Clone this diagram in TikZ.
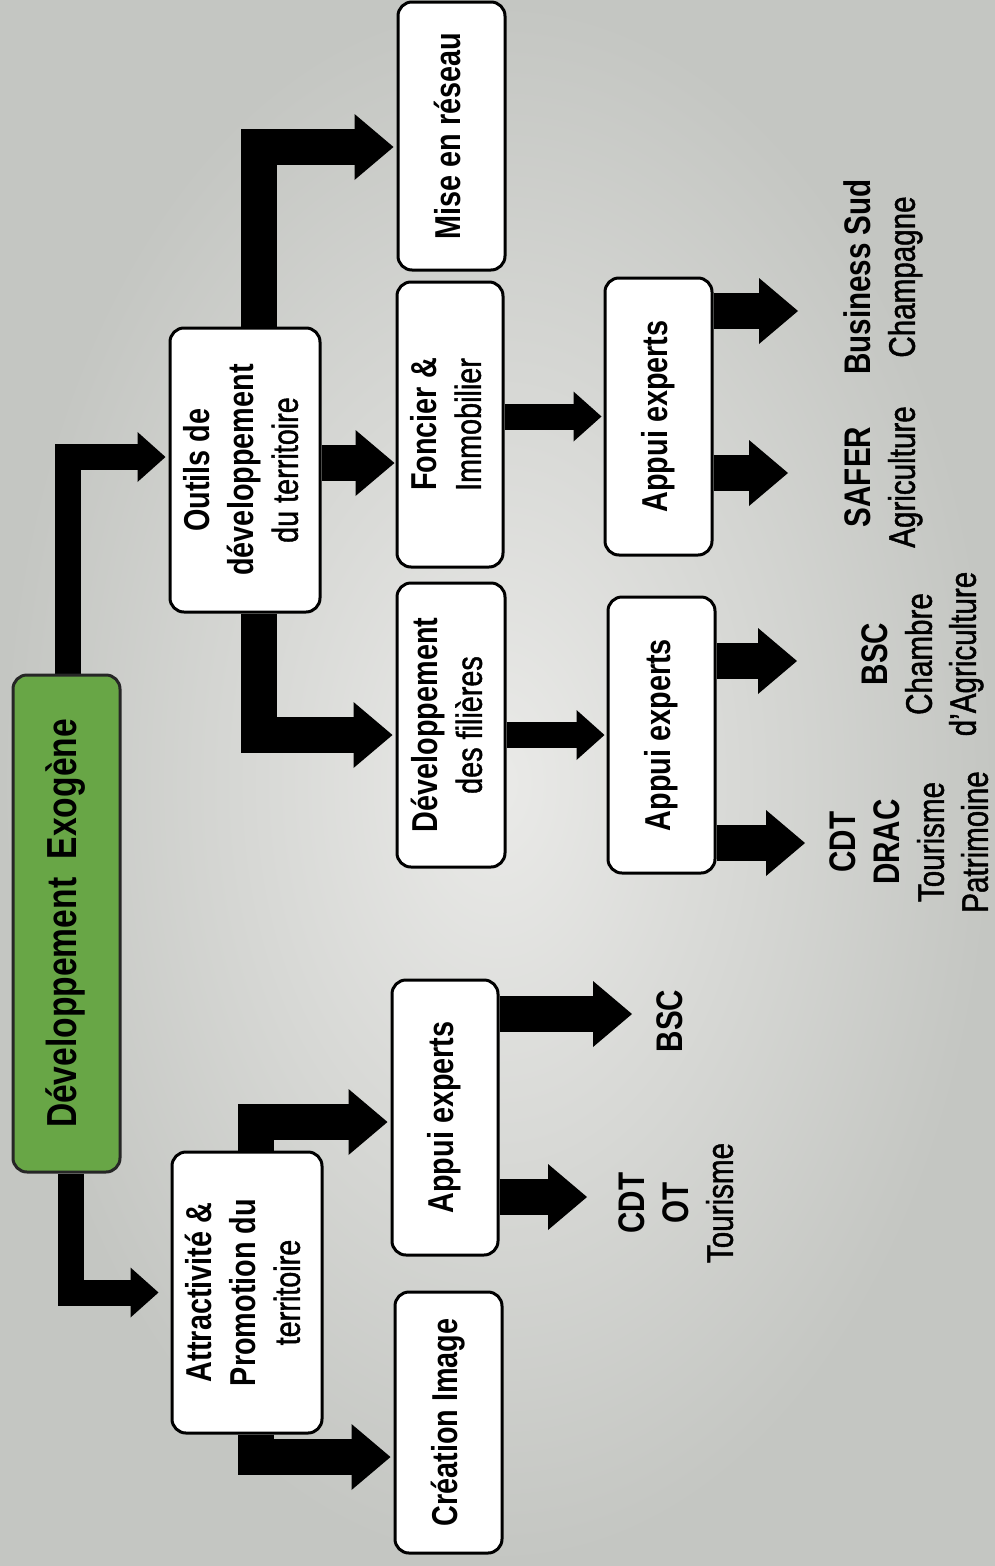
\documentclass[tikz,border=0pt]{standalone}
\usepackage{fontspec}
\usepackage{graphicx}
\setmainfont{Liberation Sans}[FakeStretch=0.8]
\newfontfamily\medfont{Liberation Sans}[FakeStretch=0.8, FakeBold=1.2]
\usetikzlibrary{arrows.meta}
\definecolor{grn}{RGB}{104,166,70}
\definecolor{bgA}{RGB}{234,234,232}
\definecolor{bgB}{RGB}{196,198,194}
\pgfdeclarelayer{bg}
\pgfdeclarelayer{arr}
\pgfsetlayers{bg,arr,main}
\newcommand{\rt}[1]{\rotatebox{90}{\begin{tabular}{@{}c@{}}#1\end{tabular}}}
\newcommand{\md}[1]{{\medfont #1}}
\tikzset{
  box/.style={draw=black, line width=3pt, rounded corners=14pt, fill=white, inner sep=0pt,
    font=\fontsize{36pt}{44pt}\selectfont},
  lbl/.style={inner sep=0pt, font=\fontsize{37pt}{44pt}\selectfont},
  blk/.style n args={3}{line width=#1, line join=miter, draw=black,
    -{Triangle[length=#2, width=#3, line width=0pt]}},
  thickarr/.style={blk={36pt}{39pt}{66pt}},
  thinarr/.style={blk={26pt}{28pt}{50pt}},
}
\begin{document}
\begin{tikzpicture}[x=1pt, y=-1pt]
\useasboundingbox (0,0) rectangle (995,1566);
\begin{pgfonlayer}{bg}
  \shade[inner color=bgA, outer color=bgB] (0,0) rectangle (995,1566);
\end{pgfonlayer}

% boxes
\node[box, fill=grn, draw=black!85, minimum width=107pt, minimum height=497pt,
  font=\fontsize{42pt}{48pt}\selectfont] (g) at (66.5,923.5) {\rt{\textbf{Développement\ \ Exogène}}};
\node[box, minimum width=150pt, minimum height=281pt] (at) at (247,1292.5)
  {\rt{\textbf{Attractivité \&}\\\textbf{Promotion du}\\\md{territoire}}};
\node[box, minimum width=150pt, minimum height=284pt] (ou) at (245,470)
  {\rt{\textbf{Outils de}\\\textbf{développement}\\\md{du territoire}}};
\node[box, minimum width=107pt, minimum height=268pt] (mi) at (451.5,136) {\rt{\textbf{Mise en réseau}}};
\node[box, minimum width=106pt, minimum height=285pt] (fo) at (450,424.5) {\rt{\textbf{Foncier \&}\\\md{Immobilier}}};
\node[box, minimum width=108pt, minimum height=284pt] (fi) at (451,725) {\rt{\textbf{Développement}\\\md{des filières}}};
\node[box, minimum width=107pt, minimum height=277pt] (ap2) at (658.5,416.5) {\rt{\textbf{Appui experts}}};
\node[box, minimum width=107pt, minimum height=276pt] (ap3) at (661.5,735) {\rt{\textbf{Appui experts}}};
\node[box, minimum width=106pt, minimum height=275pt] (ap1) at (445,1117.5) {\rt{\textbf{Appui experts}}};
\node[box, minimum width=107pt, minimum height=261pt] (cr) at (448.5,1422.5) {\rt{\textbf{Création Image}}};

% labels
\node[lbl] (l6) at (884,277) {\rt{\textbf{Business Sud}\\\md{Champagne}}};
\node[lbl] (l5) at (884,477) {\rt{\textbf{SAFER}\\\md{Agriculture}}};
\node[lbl] (l4) at (923,654) {\rt{\textbf{BSC}\\\md{Chambre}\\\md{d’Agriculture}}};
\node[lbl] (l3) at (913,842) {\rt{\textbf{CDT}\\\textbf{DRAC}\\\md{Tourisme}\\\md{Patrimoine}}};
\node[lbl] (l1) at (674,1021) {\rt{\textbf{BSC}}};
\node[lbl] (l2) at (680,1203) {\rt{\textbf{CDT}\\\textbf{OT}\\\md{Tourisme}}};

% free arrow ends
\coordinate (t6) at (798,311);
\coordinate (t5) at (788,473);
\coordinate (t4) at (797,661);
\coordinate (t3) at (805,843);
\coordinate (t1) at (632,1014);
\coordinate (t2) at (587,1197);
\coordinate (foin) at ([yshift=7pt]ou.east);

\begin{pgfonlayer}{arr}
  \draw[thinarr, shorten >=12pt] ([xshift=4.5pt]g.south) |- (at.west);
  \draw[thinarr, shorten >=3pt] ([xshift=1.5pt]g.north) |- ([yshift=13pt]ou.west);
  \draw[thickarr, shorten >=3pt] ([xshift=14pt]ou.north) |- ([yshift=-11pt]mi.west);
  \draw[thickarr, shorten >=1pt] (foin) -- (foin -| fo.west);
  \draw[thickarr, shorten >=3pt] ([xshift=14pt]ou.south) |- ([yshift=-10pt]fi.west);
  \draw[thickarr, shorten >=3pt] ([xshift=9pt]at.north) |- ([yshift=-4.5pt]ap1.west);
  \draw[thickarr, shorten >=3pt] ([xshift=9pt]at.south) |- ([yshift=-34.5pt]cr.west);
  \draw[thinarr, shorten >=2pt] (fo.east |- ap2.west) -- (ap2.west);
  \draw[thinarr, shorten >=2pt] (fi.east |- ap3.west) -- (ap3.west);
  \draw[thickarr] (ap2.east |- t6) -- (t6);
  \draw[thickarr] (ap2.east |- t5) -- (t5);
  \draw[thickarr] (ap3.east |- t4) -- (t4);
  \draw[thickarr] (ap3.east |- t3) -- (t3);
  \draw[thickarr] (ap1.east |- t1) -- (t1);
  \draw[thickarr] (ap1.east |- t2) -- (t2);
\end{pgfonlayer}
\end{tikzpicture}
\end{document}
